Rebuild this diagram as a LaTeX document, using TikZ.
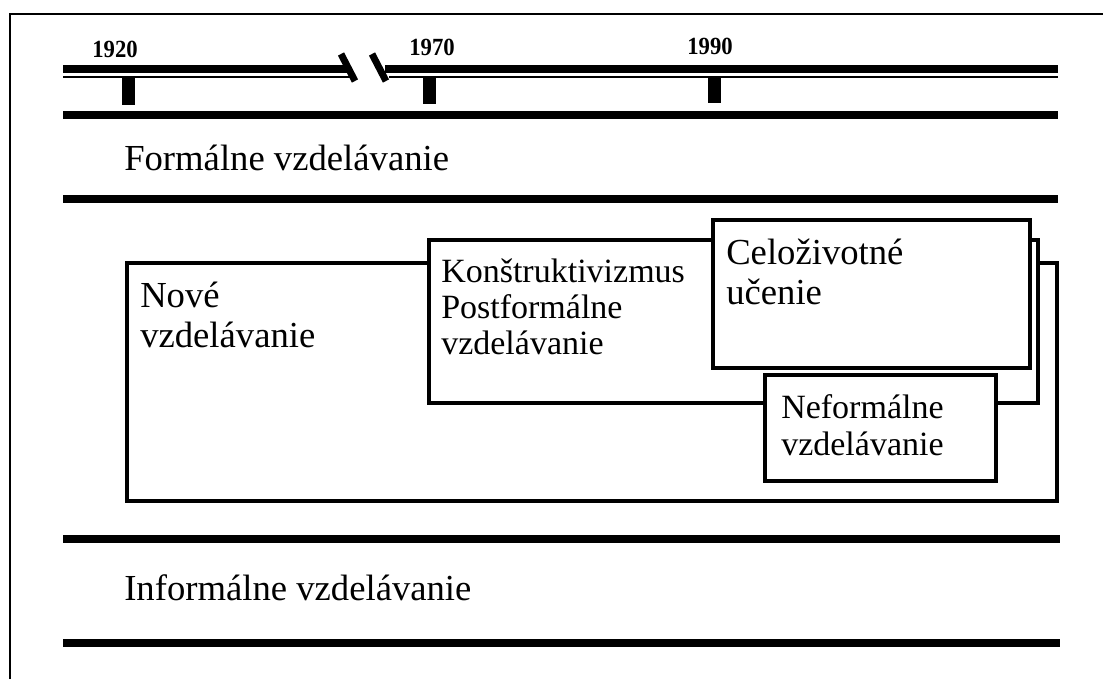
\documentclass[tikz,border=0pt]{standalone}
\usepackage{fontspec}
\setmainfont{Liberation Serif}
\begin{document}
\begin{tikzpicture}[x=0.75pt,y=-0.75pt,
  thickline/.style={line width=6pt},
  thinline/.style={line width=1.6pt},
  slashline/.style={line width=5.2pt},
  boxline/.style={line width=2.3pt, fill=white},
  frameline/.style={line width=1.1pt},
  yearlbl/.style={font=\fontsize{18.5}{20}\selectfont\bfseries, inner sep=0pt, anchor=base},
  biglbl/.style={font=\fontsize{27.5}{30}\selectfont, inner sep=0pt, anchor=base west},
  midlbl/.style={font=\fontsize{25.5}{28}\selectfont, inner sep=0pt, anchor=base west}]
\useasboundingbox (0,0) rectangle (1103,679);
% frame (top and left)
\draw[frameline] (10,679) -- (10,14) -- (1103,14);
% timeline: double line with break
\draw[thickline] (63,68.5) -- (350,68.5);
\draw[thinline] (63,77) -- (350,77);
\draw[slashline] (341,54) -- (355,81);
\draw[slashline] (372,54) -- (386,81);
\draw[thickline] (385,68.5) -- (1058,68.5);
\draw[thinline] (389,77) -- (1058,77);
% ticks
\fill (121.5,77) rectangle (134.5,105);
\fill (422.5,77) rectangle (435.5,104);
\fill (707.5,77) rectangle (720.5,103);
% years
\node[yearlbl] (y1920) at (115,57) {\scalebox{0.92}[1]{1920}};
\node[yearlbl] (y1970) at (432,55) {\scalebox{0.92}[1]{1970}};
\node[yearlbl] (y1990) at (710,54) {\scalebox{0.92}[1]{1990}};
% horizontal band lines
\draw[thickline] (63,115) -- (1058,115);
\draw[thickline] (63,199) -- (1058,199);
\draw[thickline] (63,539) -- (1060,539);
\draw[thickline] (63,643) -- (1060,643);
% band labels
\node[biglbl] (formal) at (124,170) {Formálne vzdelávanie};
\node[biglbl] (informal) at (124,600) {Informálne vzdelávanie};
% boxes
\draw[boxline] (127,263) rectangle (1057,501);
\draw[boxline] (429,240) rectangle (1038,403);
\draw[boxline] (713,220) rectangle (1030,368);
\draw[boxline] (765,375) rectangle (996,481);
% box texts
\node[biglbl] (nove1) at (140,307) {Nové};
\node[biglbl] (nove2) at (140,347) {vzdelávanie};
\node[midlbl] (kon1) at (441,282) {Konštruktivizmus};
\node[midlbl] (kon2) at (441,318) {Postformálne};
\node[midlbl] (kon3) at (441,354) {vzdelávanie};
\node[biglbl] (cel1) at (726,264) {Celoživotné};
\node[biglbl] (cel2) at (726,304) {učenie};
\node[midlbl] (nef1) at (781,418) {Neformálne};
\node[midlbl] (nef2) at (781,455) {vzdelávanie};
\end{tikzpicture}
\end{document}
